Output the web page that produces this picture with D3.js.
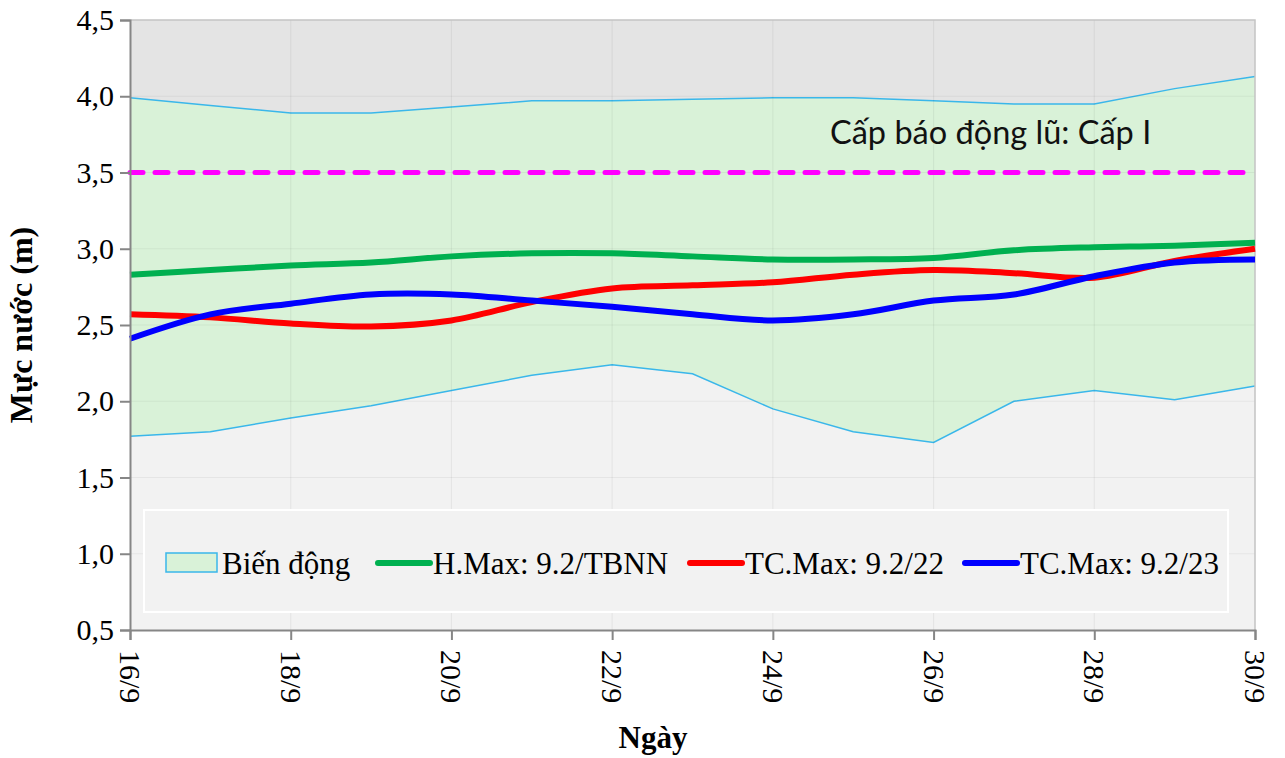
<!DOCTYPE html>
<html>
<head>
<meta charset="utf-8">
<script src="https://cdn.jsdelivr.net/npm/d3@7"></script>
<style>
  html,body{margin:0;padding:0;background:#fff;}
  svg{display:block;}
</style>
</head>
<body>
<div id="chart"></div>
<script>
// Ngày 16/9 .. 30/9
const days = ["16/9","17/9","18/9","19/9","20/9","21/9","22/9","23/9","24/9","25/9","26/9","27/9","28/9","29/9","30/9"];
const bandMax = [3.99,3.94,3.89,3.89,3.93,3.97,3.97,3.98,3.99,3.99,3.97,3.95,3.95,4.05,4.13];
const bandMin = [1.77,1.80,1.89,1.97,2.07,2.17,2.24,2.18,1.95,1.80,1.73,2.00,2.07,2.01,2.10];
const hMaxTBNN = [2.83,2.86,2.89,2.91,2.95,2.97,2.97,2.95,2.93,2.93,2.94,2.99,3.01,3.02,3.04];
const tcMax22 = [2.57,2.55,2.51,2.49,2.53,2.65,2.74,2.76,2.78,2.83,2.86,2.84,2.81,2.92,3.00];
const tcMax23 = [2.41,2.57,2.64,2.70,2.70,2.66,2.62,2.57,2.53,2.57,2.66,2.70,2.82,2.91,2.93];
const alarmLevel = 3.5;
const yTicks = [0.5,1.0,1.5,2.0,2.5,3.0,3.5,4.0,4.5];
const xTickLabels = ["16/9","18/9","20/9","22/9","24/9","26/9","28/9","30/9"];

const series = [
  {name:"H.Max: 9.2/TBNN", vals:hMaxTBNN, color:"#00b050"},
  {name:"TC.Max: 9.2/22", vals:tcMax22, color:"#ff0000"},
  {name:"TC.Max: 9.2/23", vals:tcMax23, color:"#0000ff"}
];

const serif = "Liberation Serif, Times New Roman, serif";
const W = 1285, H = 758, m = {l:130, r:30, t:20, b:128};
const svg = d3.select("#chart").append("svg").attr("width",W).attr("height",H);

const x = d3.scalePoint().domain(days).range([m.l, W-m.r]);
const y = d3.scaleLinear().domain([0.5,4.5]).range([H-m.b, m.t]);
const fmt = d => d.toFixed(1).replace(".", ",");

// nền vùng vẽ
svg.append("rect").attr("x",m.l).attr("y",m.t).attr("width",W-m.l-m.r).attr("height",H-m.t-m.b).attr("fill","#f2f2f2");

// phần trên biên trên
svg.append("path").datum(days.map((d,i)=>({d, v:bandMax[i]})))
  .attr("fill","#e4e4e4")
  .attr("d", d3.area().x(p=>x(p.d)).y0(y(4.5)).y1(p=>y(p.v)));

// dải biến động
const band = days.map((d,i)=>({d, lo:bandMin[i], hi:bandMax[i]}));
svg.append("path").datum(band).attr("fill","#d9f2d8")
  .attr("d", d3.area().x(p=>x(p.d)).y0(p=>y(p.lo)).y1(p=>y(p.hi)));
["hi","lo"].forEach(k=>{
  svg.append("path").datum(band).attr("fill","none").attr("stroke","#3ab7ea").attr("stroke-width",1.5)
    .attr("d", d3.line().x(p=>x(p.d)).y(p=>y(p[k])));
});

// lưới
const grid = svg.append("g").attr("stroke","#000").attr("stroke-opacity",0.05).attr("stroke-width",1.2);
yTicks.slice(1,-1).forEach(v=>grid.append("line").attr("x1",m.l).attr("x2",W-m.r).attr("y1",y(v)).attr("y2",y(v)));
xTickLabels.slice(1,-1).forEach(d=>grid.append("line").attr("x1",x(d)).attr("x2",x(d)).attr("y1",m.t).attr("y2",H-m.b));

// khung
svg.append("path").attr("fill","none").attr("stroke","#c4c4c4").attr("stroke-width",1.5)
  .attr("d",`M${m.l},${m.t}H${W-m.r}V${H-m.b}`);

// mực nước báo động
svg.append("line").attr("x1",m.l).attr("x2",W-m.r).attr("y1",y(alarmLevel)).attr("y2",y(alarmLevel))
  .attr("stroke","#ff00ff").attr("stroke-width",5).attr("stroke-dasharray","13 12").attr("stroke-linecap","round");
svg.append("text").attr("x",830).attr("y",y(3.69)).style("font-family","Lato, 'Open Sans', sans-serif")
  .style("font-size","32.5px").attr("fill","#111").text("Cấp báo động lũ: Cấp I");

// đường mực nước
const line = d3.line().x((v,i)=>x(days[i])).y(v=>y(v)).curve(d3.curveCatmullRom.alpha(0.5));
series.forEach(s=>{
  svg.append("path").datum(s.vals).attr("fill","none").attr("stroke",s.color).attr("stroke-width",6)
    .attr("stroke-linecap","butt").attr("d",line);
});

// chú thích
const lg = svg.append("g");
lg.append("rect").attr("x",144).attr("y",510).attr("width",1084).attr("height",102)
  .attr("fill","#f2f2f2").attr("stroke","#fff").attr("stroke-width",2);
const ly = 563, lsize = "31px";
lg.append("rect").attr("x",166).attr("y",ly-10).attr("width",51).attr("height",19)
  .attr("fill","#d9f2d8").attr("stroke","#3ab7ea").attr("stroke-width",1.5);
lg.append("text").attr("x",222).attr("y",ly+11).style("font-family",serif).style("font-size",lsize).text("Biến động");
const lx = [378, 690, 965];
series.forEach((s,i)=>{
  lg.append("line").attr("x1",lx[i]).attr("x2",lx[i]+52).attr("y1",ly).attr("y2",ly)
    .attr("stroke",s.color).attr("stroke-width",6).attr("stroke-linecap","round");
  lg.append("text").attr("x",lx[i]+55).attr("y",ly+11).style("font-family",serif).style("font-size",lsize).text(s.name);
});

// trục
const yAxis = svg.append("g").attr("transform",`translate(${m.l},0)`)
  .call(d3.axisLeft(y).tickValues(yTicks).tickFormat(fmt).tickSizeOuter(0).tickSize(10).tickPadding(6));
const xAxis = svg.append("g").attr("transform",`translate(0,${H-m.b})`)
  .call(d3.axisBottom(x).tickValues(xTickLabels).tickSizeOuter(0).tickSize(10));
xAxis.selectAll("text").attr("transform","rotate(90)")
  .attr("text-anchor","start").attr("x",20).attr("y",0).attr("dy","0.35em");
[xAxis, yAxis].forEach(a=>a.selectAll("text").attr("fill","#000")
  .style("font-family",serif).style("font-size","30px"));
svg.selectAll(".domain, .tick line").attr("stroke","#868686").attr("stroke-width",2);

svg.append("text").attr("transform",`translate(32,${(m.t+H-m.b)/2}) rotate(-90)`).attr("text-anchor","middle")
  .style("font-family",serif).style("font-weight","bold").style("font-size","32px").text("Mực nước (m)");
svg.append("text").attr("x",653).attr("y",748).attr("text-anchor","middle")
  .style("font-family",serif).style("font-weight","bold").style("font-size","31px").text("Ngày");
</script>
</body>
</html>
